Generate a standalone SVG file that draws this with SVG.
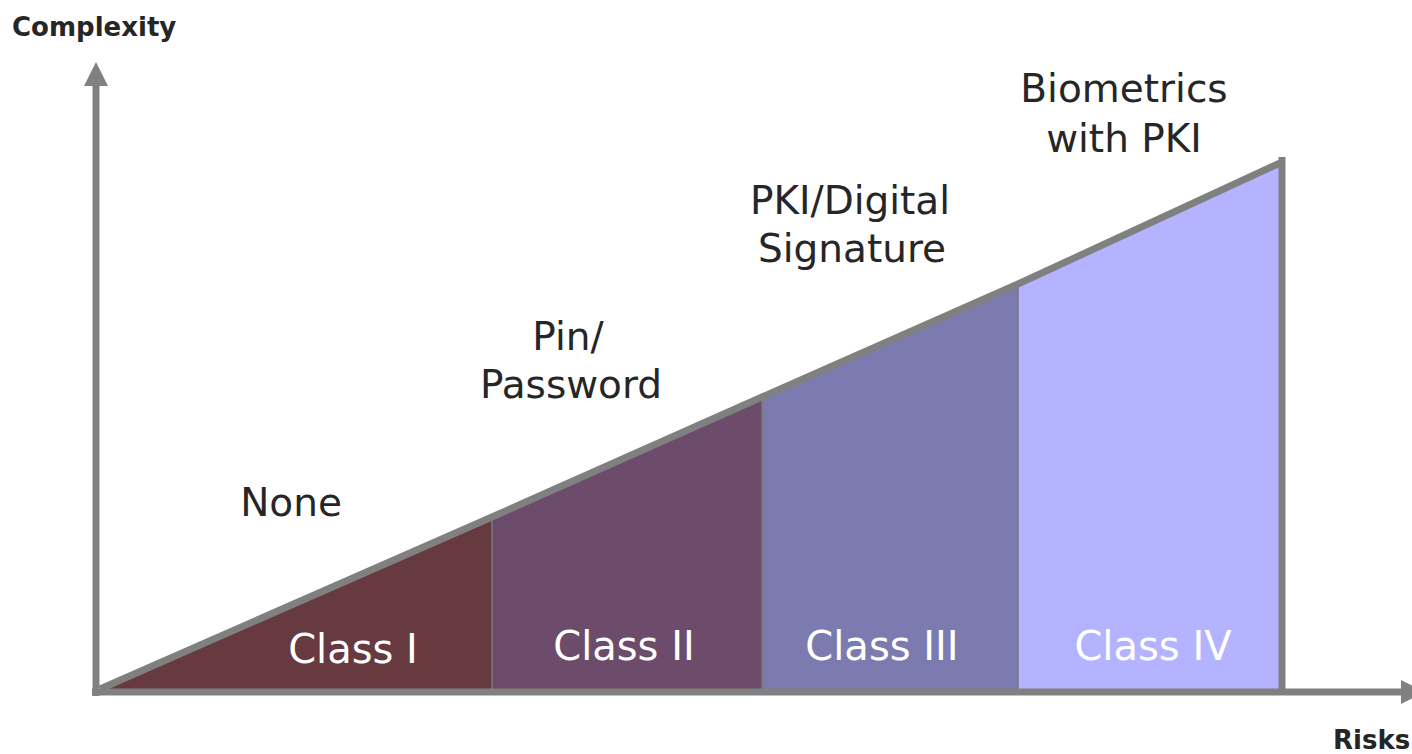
<svg xmlns="http://www.w3.org/2000/svg" width="1412" height="754" viewBox="0 0 1412 754">
<style>
.lbl{font-family:"DejaVu Sans","Noto Sans",sans-serif;font-size:39px;fill:#262626;text-anchor:middle}
.cls{font-family:"DejaVu Sans","Noto Sans",sans-serif;font-size:40px;fill:#ffffff;text-anchor:middle}
.ax{font-family:"DejaVu Sans","Noto Sans",sans-serif;font-size:26px;font-weight:bold;fill:#262626}
.axis{stroke:#808080;stroke-width:7;fill:none}
.sep{stroke:#7a7a7a;stroke-width:1.5}
</style>
<rect width="1412" height="754" fill="#ffffff"/>
<g id="class1"><polygon points="100,692 492,519 492,692" fill="#673A40"/><text class="cls" x="353" y="663">Class I</text></g>
<g id="class2"><polygon points="492,519 762,399 762,692 492,692" fill="#6D4B6B"/><text class="cls" x="624" y="660">Class II</text></g>
<g id="class3"><polygon points="762,399 1018,286 1018,692 762,692" fill="#7B7BB0"/><text class="cls" x="882" y="660">Class III</text></g>
<g id="class4"><polygon points="1018,286 1282,165 1282,692 1018,692" fill="#B3B3FF"/><text class="cls" x="1153" y="660">Class IV</text></g>
<g id="connectors">
<line class="sep" x1="492" y1="519" x2="492" y2="690"/>
<line class="sep" x1="762" y1="399" x2="762" y2="690"/>
<line class="sep" x1="1018" y1="286" x2="1018" y2="690"/>
<polyline class="axis" stroke-width="8" points="100,689 492,517 762,397 1018,284 1280,163"/>
<line class="axis" x1="1282" y1="157" x2="1282" y2="692"/>
<line class="axis" x1="96" y1="82" x2="96" y2="696"/>
<polygon points="96,62 84,86 108,86" fill="#808080"/>
<line class="axis" x1="92" y1="692" x2="1404" y2="692"/>
<polygon points="1425,692 1401,680 1401,704" fill="#808080"/>
</g>
<g id="axis-labels">
<text class="ax" x="12" y="36">Complexity</text>
<text class="ax" x="1333" y="749">Risks</text>
</g>
<g id="labels">
<text class="lbl" x="291" y="516">None</text>
<text class="lbl" x="568" y="350">Pin/</text>
<text class="lbl" x="571" y="398">Password</text>
<text class="lbl" x="850" y="214">PKI/Digital</text>
<text class="lbl" x="852" y="262">Signature</text>
<text class="lbl" x="1124" y="102">Biometrics</text>
<text class="lbl" x="1124" y="152">with PKI</text>
</g>
</svg>
